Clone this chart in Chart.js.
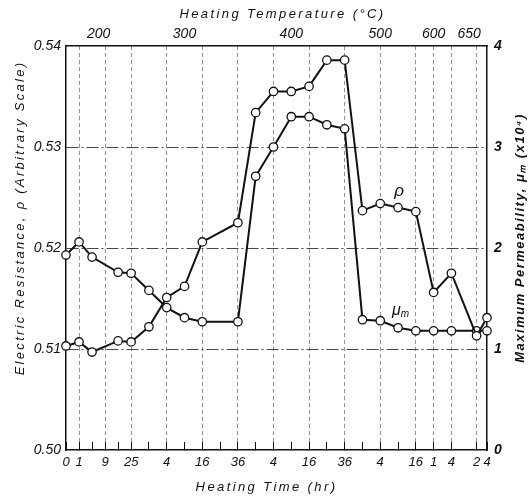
<!DOCTYPE html>
<html>
<head>
<meta charset="utf-8">
<script src="https://cdn.jsdelivr.net/npm/chart.js@4/dist/chart.umd.min.js"></script>
<style>
  html, body { margin: 0; padding: 0; background: #ffffff; }
  #wrap { width: 530px; height: 499px; position: relative; }
</style>
</head>
<body>
<div id="wrap"><canvas id="c" width="530" height="499"></canvas></div>
<script>
// ---------------- data ----------------
// heating stages (temperature, °C) and the longest time of each stage (hr)
const segmentTemps = [200, 300, 400, 500, 600, 650];
const segmentMaxHours = [25, 36, 36, 16, 4, 4];
// horizontal axis runs in sqrt(hours) within each stage; the 200 °C stage is drawn compressed
const segmentCompression = [0.732, 1, 1, 1, 1, 1];

// measured points
const pointTemps = [200, 200, 200, 200, 200,
                    300, 300, 300, 300, 300,
                    400, 400, 400, 400, 400, 400,
                    500, 500, 500, 500,
                    600, 600,
                    650, 650];
const pointHours = [0, 1, 4, 16, 25,
                    1, 4, 9, 16, 36,
                    1, 4, 9, 16, 25, 36,
                    1, 4, 9, 16,
                    1, 4,
                    2, 4];
// electric resistance rho (arbitrary scale)
const rhoValues = [0.5103, 0.5107, 0.5097, 0.5108, 0.5107,
                   0.5122, 0.5151, 0.5162, 0.5206, 0.5225,
                   0.5334, 0.5355, 0.5355, 0.5360, 0.5386, 0.5386,
                   0.5237, 0.5244, 0.5240, 0.5236,
                   0.5156, 0.5175,
                   0.5113, 0.5131];
// maximum permeability mu_m (x10^4)
const muValues = [1.93, 2.06, 1.91, 1.76, 1.75,
                  1.58, 1.41, 1.31, 1.27, 1.27,
                  2.71, 3.00, 3.30, 3.30, 3.22, 3.18,
                  1.29, 1.28, 1.21, 1.18,
                  1.18, 1.18,
                  1.18, 1.18];

// heating-time ticks (bottom axis)
const timeTickTemps = [200, 200, 200, 200, 200, 200,
                       300, 300, 300, 300, 300, 300,
                       400, 400, 400, 400, 400, 400,
                       500, 500, 500, 500,
                       600, 600,
                       650, 650];
const timeTickHours = [0, 1, 4, 9, 16, 25,
                       1, 4, 9, 16, 25, 36,
                       1, 4, 9, 16, 25, 36,
                       1, 4, 9, 16,
                       1, 4,
                       2, 4];
const timeTickLabels = ['0', '1', '', '9', '', '25',
                        '', '4', '', '16', '', '36',
                        '', '4', '', '16', '', '36',
                        '', '4', '', '16',
                        '1', '4',
                        '2', '4'];

const rhoTicks = [0.50, 0.51, 0.52, 0.53, 0.54];
const muTicks = [0, 1, 2, 3, 4];

// curve labels
const rhoLabel = { temp: 500, hours: 9, value: 0.5251 };
const muLabel = { temp: 500, hours: 9, value: 1.34 };

// ---------------- axis mapping ----------------
function segStart(i) {
  let s = 0;
  for (let k = 0; k < i; k++) s += Math.sqrt(segmentMaxHours[k]) * segmentCompression[k];
  return s;
}
function axisPos(temp, hours) {
  const i = segmentTemps.indexOf(temp);
  return segStart(i) + Math.sqrt(hours) * segmentCompression[i];
}
const axisMax = segStart(segmentTemps.length);
const timeTickValues = timeTickTemps.map((t, i) => axisPos(t, timeTickHours[i]));
const tempLabelValues = segmentTemps.map((t, i) => segStart(i) + Math.sqrt(segmentMaxHours[i]) * segmentCompression[i] / 2);

// ---------------- title styling (letter spacing, offsets, reading direction) ----------------
const titleExtras = {
  x:  { spacing: 2.4, dx: -10, dy: 0 },
  xT: { spacing: 2.4, dx: 6, dy: 1 },
  yL: { spacing: 2.3, dx: 0, dy: -30 },
  yR: { spacing: 1.5, dx: 0, dy: -10, flip: true }
};
const baseDrawTitle = Chart.Scale.prototype.drawTitle;
Chart.Scale.prototype.drawTitle = function () {
  const ex = titleExtras[this.id] || {};
  const ctx = this.ctx;
  ctx.save();
  if ('letterSpacing' in ctx) ctx.letterSpacing = (ex.spacing || 0) + 'px';
  ctx.translate(ex.dx || 0, ex.dy || 0);
  if (ex.flip) {
    const t = this.options.title;
    const lh = t.font.size * 1.2;
    const padTop = (t.padding && typeof t.padding === 'object') ? t.padding.top : (t.padding || 0);
    const cx = this.right - (lh / 2 + padTop);
    const cy = (this.top + this.bottom) / 2;
    ctx.translate(cx, cy);
    ctx.rotate(Math.PI);
    ctx.translate(-cx, -cy);
  }
  baseDrawTitle.apply(this, arguments);
  ctx.restore();
};

const FONT = '"Liberation Sans", Arial, sans-serif';
const INK = '#111111';

const curveLabels = {
  id: 'curveLabels',
  afterDatasetsDraw(chart) {
    const { ctx, scales } = chart;
    ctx.save();
    ctx.fillStyle = INK;
    ctx.textBaseline = 'alphabetic';
    // rho
    ctx.font = 'italic 17px ' + FONT;
    ctx.textAlign = 'center';
    const xr = scales.x.getPixelForValue(axisPos(rhoLabel.temp, rhoLabel.hours));
    ctx.fillText('ρ', xr + 1, scales.yL.getPixelForValue(rhoLabel.value));
    // mu_m
    const xm = scales.x.getPixelForValue(axisPos(muLabel.temp, muLabel.hours));
    const ym = scales.yR.getPixelForValue(muLabel.value);
    ctx.textAlign = 'left';
    ctx.font = 'italic 16px ' + FONT;
    const w = ctx.measureText('μ').width;
    ctx.fillText('μ', xm - 6, ym);
    ctx.font = 'italic 10px ' + FONT;
    ctx.fillText('m', xm - 6 + w, ym + 2);
    ctx.restore();
  }
};

function series(values) {
  return pointTemps.map((t, i) => ({ x: axisPos(t, pointHours[i]), y: values[i] }));
}

const pointStyle = {
  borderColor: INK,
  borderWidth: 2,
  pointRadius: 4.2,
  pointHoverRadius: 4.2,
  pointBackgroundColor: '#ffffff',
  pointBorderColor: INK,
  pointBorderWidth: 1.3,
  tension: 0,
  fill: false,
  clip: false
};

new Chart(document.getElementById('c'), {
  type: 'line',
  data: {
    datasets: [
      Object.assign({ label: 'ρ', data: series(rhoValues), yAxisID: 'yL', xAxisID: 'x' }, pointStyle),
      Object.assign({ label: 'μm', data: series(muValues), yAxisID: 'yR', xAxisID: 'x' }, pointStyle)
    ]
  },
  options: {
    responsive: false,
    animation: false,
    events: [],
    layout: { padding: 0 },
    plugins: { legend: { display: false }, tooltip: { enabled: false } },
    scales: {
      x: {
        type: 'linear',
        position: 'bottom',
        min: 0,
        max: axisMax,
        afterBuildTicks: s => { s.ticks = timeTickValues.map(v => ({ value: v })); },
        afterFit: s => { s.height = 49; },
        ticks: {
          autoSkip: false,
          maxRotation: 0,
          minRotation: 0,
          padding: 13,
          color: INK,
          font: { family: FONT, size: 13, style: 'italic' },
          callback: (v, i) => timeTickLabels[i]
        },
        grid: {
          drawOnChartArea: true,
          drawTicks: true,
          tickLength: -8,
          tickColor: INK,
          tickWidth: 1,
          lineWidth: 0.8,
          color: c => {
            const i = c.index;
            return (timeTickLabels[i] !== '' && i > 0 && i < timeTickLabels.length - 1) ? '#777777' : 'rgba(0,0,0,0)';
          }
        },
        border: { display: true, color: INK, width: 1.5, dash: [4, 3] },
        title: {
          display: true,
          text: 'Heating Time (hr)',
          color: INK,
          font: { family: FONT, size: 13, style: 'italic' },
          padding: { top: 0, bottom: 4 }
        }
      },
      xT: {
        type: 'linear',
        position: 'top',
        min: 0,
        max: axisMax,
        afterBuildTicks: s => { s.ticks = tempLabelValues.map(v => ({ value: v })); },
        afterFit: s => { s.height = 46; },
        ticks: {
          autoSkip: false,
          maxRotation: 0,
          minRotation: 0,
          padding: 3,
          color: INK,
          font: { family: FONT, size: 14, style: 'italic' },
          callback: (v, i) => String(segmentTemps[i])
        },
        grid: { drawOnChartArea: false, drawTicks: false },
        border: { display: true, color: INK, width: 1.5 },
        title: {
          display: true,
          text: 'Heating Temperature (°C)',
          color: INK,
          font: { family: FONT, size: 13, style: 'italic' },
          padding: { top: 6, bottom: 0 }
        }
      },
      yL: {
        type: 'linear',
        position: 'left',
        min: 0.50,
        max: 0.54,
        afterBuildTicks: s => { s.ticks = rhoTicks.map(v => ({ value: v })); },
        afterFit: s => { s.width = 66; },
        ticks: {
          padding: 5,
          color: INK,
          font: { family: FONT, size: 14, style: 'italic' },
          callback: v => v.toFixed(2)
        },
        grid: {
          drawTicks: false,
          lineWidth: 0.9,
          color: c => (c.index > 0 && c.index < rhoTicks.length - 1) ? '#333333' : 'rgba(0,0,0,0)'
        },
        border: { display: true, color: INK, width: 1.5, dash: [12, 3, 2, 3] },
        title: {
          display: true,
          text: 'Electric Resistance, ρ (Arbitrary Scale)',
          color: INK,
          font: { family: FONT, size: 13, style: 'italic' },
          padding: { top: 13, bottom: 0 }
        }
      },
      yR: {
        type: 'linear',
        position: 'right',
        min: 0,
        max: 4,
        afterBuildTicks: s => { s.ticks = muTicks.map(v => ({ value: v })); },
        afterFit: s => { s.width = 43; },
        ticks: {
          padding: 7,
          color: INK,
          font: { family: FONT, size: 14, style: 'italic', weight: 'bold' },
          callback: v => String(v)
        },
        grid: { drawOnChartArea: false, drawTicks: false },
        border: { display: true, color: INK, width: 1.5 },
        title: {
          display: true,
          text: 'Maximum Permeability, μₘ (x10⁴)',
          color: INK,
          font: { family: FONT, size: 13, style: 'italic', weight: 'bold' },
          padding: { top: 2, bottom: 0 }
        }
      }
    }
  },
  plugins: [curveLabels]
});
</script>
</body>
</html>
